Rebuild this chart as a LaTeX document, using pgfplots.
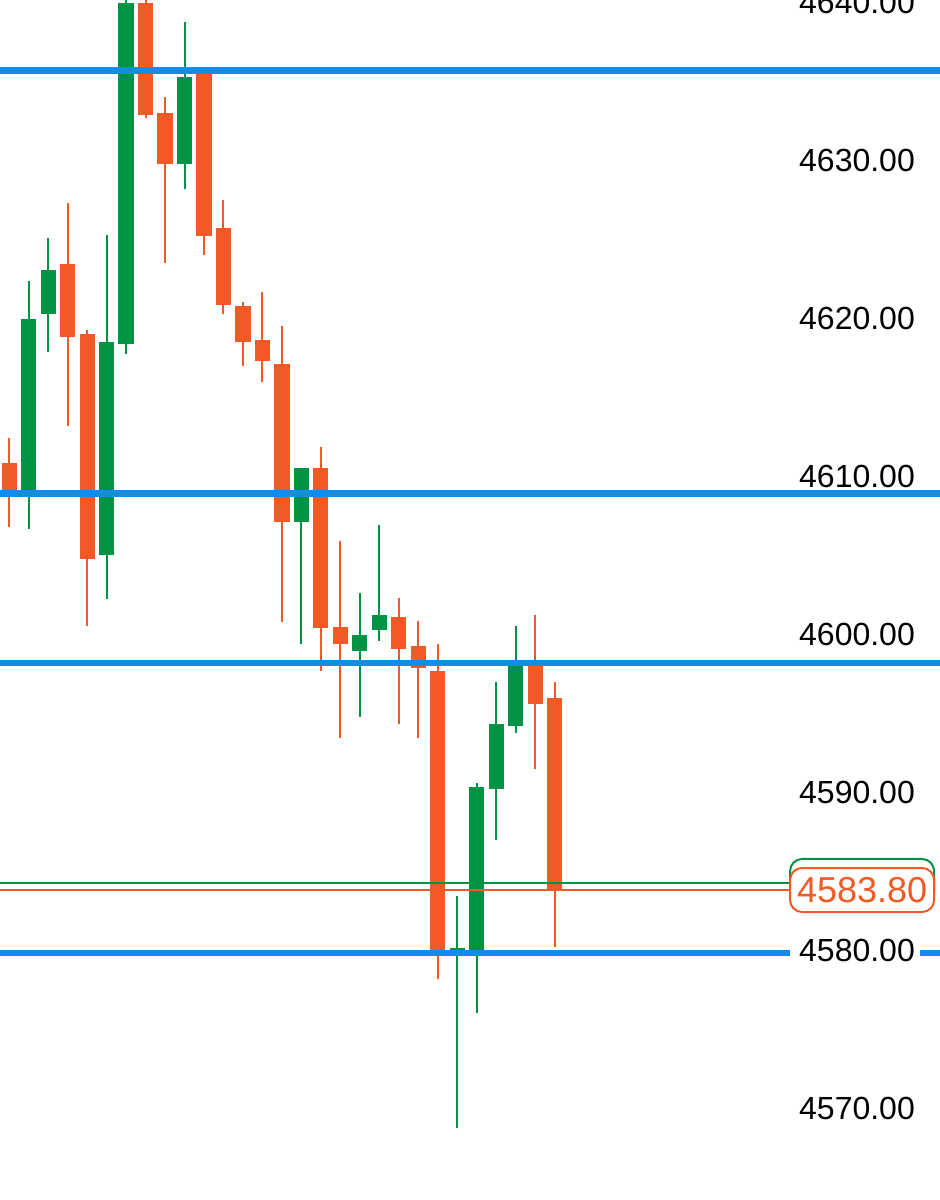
\documentclass[border=0pt]{standalone}
\usepackage{pgfplots}
\pgfplotsset{compat=1.18}
\usepackage{fontspec}
\setmainfont{Liberation Sans}
\definecolor{cgreen}{RGB}{0,146,69}
\definecolor{corange}{RGB}{241,90,36}
\definecolor{cblue}{RGB}{17,141,232}
% #1 index, #2 open, #3 high, #4 low, #5 close, #6 colour
\newcommand{\candle}[6]{%
  \addplot[#6, line width=1bp, forget plot] coordinates {(#1,#4) (#1,#3)};
  \addplot[#6, line width=7.6bp, forget plot] coordinates {(#1,#2) (#1,#5)};
}
\begin{document}
\begin{tikzpicture}
\begin{axis}[name=ax, at={(0,0)}, anchor=south west,
  scale only axis, width=470bp, height=600bp,
  xmin=-0.472, xmax=47.78, ymin=4564.18, ymax=4640.13,
  axis line style={draw=none}, xtick=\empty,
  ytick={4570,4580,4590,4600,4610,4620,4630,4640},
  yticklabel pos=right, major tick length=0pt,
  /pgf/number format/assume math mode=true,
  yticklabel style={/pgf/number format/.cd, fixed, fixed zerofill, precision=2, 1000 sep={}, /tikz/.cd,
    anchor=center, xshift=-41.5bp, font=\fontsize{16bp}{16bp}\selectfont, text=black},
  clip=true]
\candle{0}{4610.82}{4612.41}{4606.77}{4609.11}{corange}
\candle{1}{4609.11}{4622.34}{4606.65}{4619.94}{cgreen}
\candle{2}{4620.25}{4625.06}{4617.85}{4623.04}{cgreen}
\candle{3}{4623.42}{4627.28}{4613.16}{4618.80}{corange}
\candle{4}{4618.99}{4619.24}{4600.51}{4604.75}{corange}
\candle{5}{4605.00}{4625.25}{4602.22}{4618.48}{cgreen}
\candle{6}{4618.35}{4640.60}{4617.72}{4639.94}{cgreen}
\candle{7}{4639.94}{4640.60}{4632.66}{4632.85}{corange}
\candle{8}{4632.97}{4633.99}{4623.48}{4629.75}{corange}
\candle{9}{4629.75}{4638.73}{4628.16}{4635.25}{cgreen}
\candle{10}{4635.57}{4635.60}{4623.99}{4625.19}{corange}
\candle{11}{4625.70}{4627.47}{4620.25}{4620.82}{corange}
\candle{12}{4620.76}{4621.01}{4616.96}{4618.48}{corange}
\candle{13}{4618.61}{4621.65}{4615.95}{4617.28}{corange}
\candle{14}{4617.09}{4619.49}{4600.76}{4607.09}{corange}
\candle{15}{4607.09}{4610.51}{4599.37}{4610.51}{cgreen}
\candle{16}{4610.51}{4611.84}{4597.66}{4600.38}{corange}
\candle{17}{4600.44}{4605.89}{4593.42}{4599.37}{corange}
\candle{18}{4598.92}{4602.59}{4594.75}{4599.94}{cgreen}
\candle{19}{4600.25}{4606.90}{4599.56}{4601.20}{cgreen}
\candle{20}{4601.08}{4602.28}{4594.30}{4599.05}{corange}
\candle{21}{4599.24}{4600.82}{4593.42}{4597.85}{corange}
\candle{22}{4597.66}{4599.37}{4578.16}{4580.00}{corange}
\candle{23}{4580.00}{4583.42}{4568.73}{4580.13}{cgreen}
\candle{24}{4580.00}{4590.57}{4576.01}{4590.32}{cgreen}
\candle{25}{4590.19}{4596.96}{4586.96}{4594.30}{cgreen}
\candle{26}{4594.18}{4600.51}{4593.73}{4598.04}{cgreen}
\candle{27}{4598.04}{4601.20}{4591.46}{4595.57}{corange}
\candle{28}{4595.95}{4596.96}{4580.19}{4583.80}{corange}
% support / resistance levels
\addplot[cblue, line width=3.3bp] coordinates {(-0.472,4635.65) (47.78,4635.65)};
\addplot[cblue, line width=3.3bp] coordinates {(-0.472,4608.91) (47.78,4608.91)};
\addplot[cblue, line width=3.3bp] coordinates {(-0.472,4598.18) (47.78,4598.18)};
\addplot[cblue, line width=3.3bp] coordinates {(-0.472,4579.81) (40.08,4579.81)};
\addplot[cblue, line width=3.3bp] coordinates {(46.76,4579.81) (47.78,4579.81)};
% current price lines
\addplot[cgreen, line width=1bp] coordinates {(-0.472,4584.26) (41,4584.26)};
\addplot[corange, line width=1bp] coordinates {(-0.472,4583.80) (41,4583.80)};
\node[draw=cgreen, line width=1bp, rounded corners=6bp, fill=white, minimum width=72bp, minimum height=22bp, inner sep=0pt] at (axis cs:43.78,4584.37) {};
\node[draw=corange, line width=1bp, rounded corners=6bp, fill=white, minimum width=72bp, minimum height=22bp, inner sep=0pt, text=corange, font=\fontsize{18bp}{18bp}\selectfont] at (axis cs:43.78,4583.80) {4583.80};
\end{axis}
\pgfresetboundingbox
\useasboundingbox (ax.south west) rectangle (ax.north east);
\end{tikzpicture}
\end{document}
